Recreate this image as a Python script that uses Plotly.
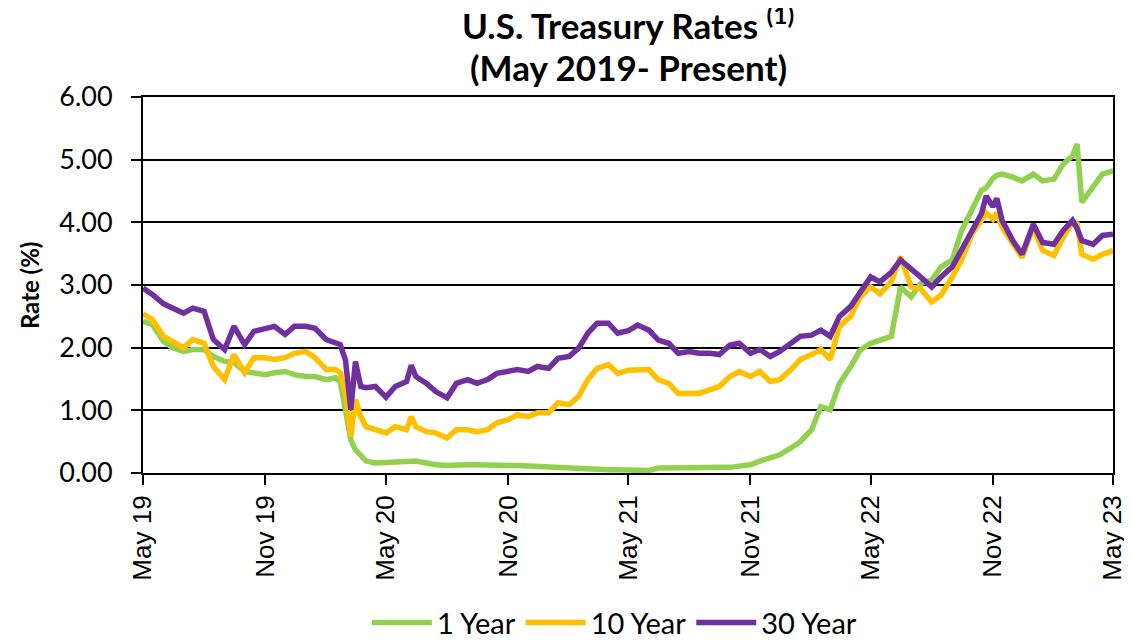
import plotly.graph_objects as go

dates = [
    "2019-05-01", "2019-05-15", "2019-06-01", "2019-06-15", "2019-07-01", "2019-07-15",
    "2019-08-01", "2019-08-15", "2019-09-01", "2019-09-15", "2019-10-01", "2019-10-15",
    "2019-11-01", "2019-11-15", "2019-12-01", "2019-12-15", "2020-01-01", "2020-01-15",
    "2020-02-01", "2020-02-15", "2020-02-22", "2020-03-01", "2020-03-09", "2020-03-16",
    "2020-03-24", "2020-04-01", "2020-04-15", "2020-05-01", "2020-05-15", "2020-06-01",
    "2020-06-08", "2020-06-15", "2020-07-01", "2020-07-15", "2020-08-01", "2020-08-15",
    "2020-09-01", "2020-09-15", "2020-10-01", "2020-10-15", "2020-11-01", "2020-11-15",
    "2020-12-01", "2020-12-15", "2021-01-01", "2021-01-15", "2021-02-01", "2021-02-15",
    "2021-03-01", "2021-03-15", "2021-04-01", "2021-04-15", "2021-05-01", "2021-05-15",
    "2021-06-01", "2021-06-15", "2021-07-01", "2021-07-15", "2021-08-01", "2021-08-15",
    "2021-09-01", "2021-09-15", "2021-10-01", "2021-10-15", "2021-11-01", "2021-11-15",
    "2021-12-01", "2021-12-15", "2022-01-01", "2022-01-15", "2022-02-01", "2022-02-15",
    "2022-03-01", "2022-03-15", "2022-04-01", "2022-04-15", "2022-05-01", "2022-05-15",
    "2022-06-01", "2022-06-15", "2022-07-01", "2022-07-15", "2022-08-01", "2022-08-15",
    "2022-09-01", "2022-09-15", "2022-10-01", "2022-10-15", "2022-10-22", "2022-11-01",
    "2022-11-07", "2022-11-15",
    "2022-12-01", "2022-12-15", "2023-01-01", "2023-01-15", "2023-02-01", "2023-02-15",
    "2023-03-01", "2023-03-08", "2023-03-15", "2023-04-01", "2023-04-15", "2023-05-01",
]

one_year = [
    2.42, 2.37, 2.10, 2.00, 1.94, 1.97,
    1.97, 1.86, 1.78, 1.76, 1.62, 1.60,
    1.57, 1.60, 1.62, 1.57, 1.54, 1.54,
    1.49, 1.52, 1.46, 1.00, 0.53, 0.37,
    0.29, 0.19, 0.16, 0.17, 0.17, 0.18,
    0.19, 0.19, 0.16, 0.13, 0.12, 0.13,
    0.13, 0.13, 0.12, 0.12, 0.12, 0.12,
    0.11, 0.10, 0.10, 0.08, 0.07, 0.06,
    0.05, 0.06, 0.05, 0.05, 0.05, 0.05,
    0.04, 0.08, 0.08, 0.08, 0.08, 0.07,
    0.07, 0.07, 0.09, 0.11, 0.13, 0.19,
    0.24, 0.29, 0.40, 0.50, 0.69, 1.06,
    1.01, 1.43, 1.70, 1.96, 2.07, 2.12,
    2.18, 2.97, 2.81, 3.02, 3.08, 3.29,
    3.40, 3.87, 4.19, 4.51, 4.55, 4.70,
    4.75, 4.77,
    4.72, 4.66, 4.77, 4.66, 4.69, 4.93,
    5.06, 5.25, 4.32, 4.56, 4.77, 4.82,
]

ten_year = [
    2.54, 2.45, 2.18, 2.10, 2.00, 2.13,
    2.07, 1.70, 1.49, 1.89, 1.60, 1.84,
    1.84, 1.81, 1.84, 1.91, 1.94, 1.84,
    1.65, 1.65, 1.60, 1.28, 0.58, 1.17,
    0.90, 0.74, 0.69, 0.64, 0.74, 0.69,
    0.90, 0.74, 0.66, 0.64, 0.56, 0.69,
    0.69, 0.66, 0.69, 0.80, 0.85, 0.93,
    0.90, 0.96, 0.96, 1.12, 1.09, 1.22,
    1.49, 1.67, 1.73, 1.59, 1.64, 1.65,
    1.65, 1.49, 1.43, 1.27, 1.27, 1.27,
    1.33, 1.38, 1.54, 1.62, 1.54, 1.62,
    1.46, 1.49, 1.65, 1.81, 1.89, 1.97,
    1.81, 2.34, 2.50, 2.80, 2.97, 2.86,
    3.05, 3.45, 2.97, 2.94, 2.73, 2.84,
    3.13, 3.40, 3.82, 4.03, 4.15, 4.05,
    4.15, 3.92,
    3.65, 3.44, 3.92, 3.55, 3.47, 3.76,
    4.00, 3.98, 3.49, 3.41, 3.49, 3.55,
]

thirty_year = [
    2.95, 2.85, 2.70, 2.62, 2.55, 2.63,
    2.58, 2.13, 1.97, 2.34, 2.05, 2.26,
    2.31, 2.34, 2.21, 2.34, 2.34, 2.31,
    2.13, 2.07, 2.05, 1.80, 1.01, 1.78,
    1.38, 1.36, 1.38, 1.21, 1.38, 1.46,
    1.72, 1.54, 1.43, 1.30, 1.20, 1.43,
    1.49, 1.43, 1.49, 1.59, 1.62, 1.65,
    1.62, 1.70, 1.67, 1.83, 1.86, 1.99,
    2.23, 2.39, 2.39, 2.23, 2.27, 2.36,
    2.28, 2.12, 2.07, 1.91, 1.94, 1.91,
    1.91, 1.89, 2.04, 2.07, 1.91, 1.97,
    1.86, 1.94, 2.07, 2.18, 2.20, 2.28,
    2.18, 2.50, 2.66, 2.88, 3.13, 3.05,
    3.20, 3.40, 3.24, 3.13, 2.97, 3.13,
    3.29, 3.55, 3.85, 4.14, 4.42, 4.25,
    4.38, 4.03,
    3.71, 3.49, 3.97, 3.68, 3.65, 3.87,
    4.03, 3.90, 3.71, 3.65, 3.79, 3.81,
]

series_names = ["1 Year", "10 Year", "30 Year"]
colors = ["#92D050", "#FFC000", "#7030A0"]

tick_dates = ["2019-05-01", "2019-11-01", "2020-05-01", "2020-11-01", "2021-05-01",
              "2021-11-01", "2022-05-01", "2022-11-01", "2023-05-01"]
tick_labels = ["May 19", "Nov 19", "May 20", "Nov 20", "May 21",
               "Nov 21", "May 22", "Nov 22", "May 23"]
y_ticks = [0, 1, 2, 3, 4, 5, 6]

fig = go.Figure()
for name, vals, col in zip(series_names, [one_year, ten_year, thirty_year], colors):
    fig.add_trace(go.Scatter(x=dates, y=vals, mode="lines", name=name,
                             line=dict(color=col, width=5.5)))

fig.update_layout(
    width=1132, height=640,
    paper_bgcolor="white", plot_bgcolor="white",
    margin=dict(l=134.5, r=27, t=89, b=175, autoexpand=False),
    showlegend=True,
    legend=dict(
        orientation="h", x=0.486, xanchor="center", y=-0.398, yanchor="middle",
        font=dict(family="Lato", size=29, color="black"),
        itemwidth=60, tracegroupgap=0, bgcolor="rgba(0,0,0,0)",
    ),
    xaxis=dict(
        type="date", range=["2019-05-01", "2023-05-01"], automargin=False,
        tickvals=tick_dates, ticktext=tick_labels, tickangle=-90,
        ticklabeloverflow="allow",
        tickfont=dict(family="Liberation Sans", size=26, color="black"),
        showline=True, linecolor="black", linewidth=2, mirror=True,
        ticks="outside", ticklen=10, tickwidth=2, tickcolor="black",
        showgrid=False, zeroline=False,
    ),
    yaxis=dict(
        range=[0, 6], tickvals=y_ticks, tickformat=".2f", automargin=False,
        tickfont=dict(family="Lato", size=27, color="black"),
        ticklabelstandoff=13,
        showline=True, linecolor="black", linewidth=2, mirror=True,
        ticks="outside", ticklen=10, tickwidth=2, tickcolor="black",
        showgrid=True, gridcolor="black", gridwidth=2, zeroline=False,
    ),
    annotations=[
        dict(text="<b>U.S. Treasury Rates <sup>(1)</sup></b>", xref="paper", yref="paper",
             x=0.5, y=1.197, xanchor="center", yanchor="middle", showarrow=False,
             font=dict(family="Lato", size=35, color="black")),
        dict(text="<b>(May 2019- Present)</b>", xref="paper", yref="paper",
             x=0.5, y=1.08, xanchor="center", yanchor="middle", showarrow=False,
             font=dict(family="Lato", size=35, color="black")),
        dict(text="<b>Rate (%)</b>", xref="paper", yref="paper",
             x=-0.1174, y=0.5, xanchor="center", yanchor="middle", showarrow=False,
             textangle=-90, font=dict(family="Lato", size=24, color="black")),
    ],
)

fig.write_html("out.html")
